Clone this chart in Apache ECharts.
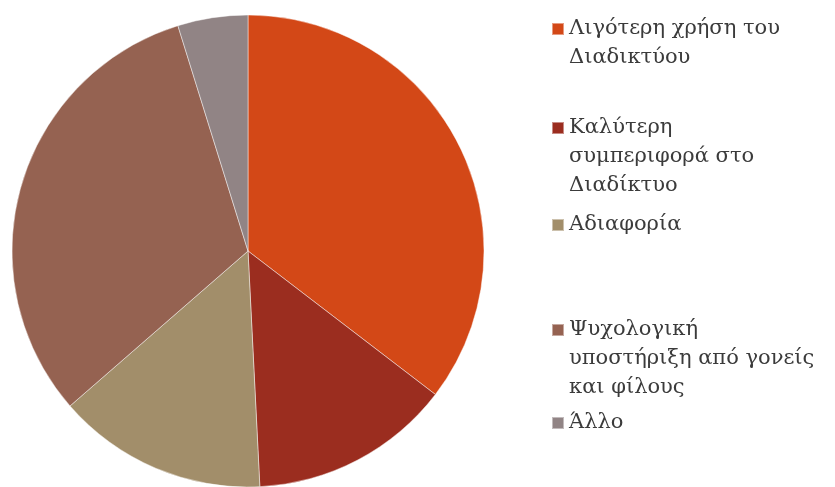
<!DOCTYPE html>
<html>
<head>
<meta charset="utf-8">
<script src="https://cdn.jsdelivr.net/npm/echarts@6/dist/echarts.min.js"></script>
<style>
  html, body { margin: 0; padding: 0; background: #fff; }
  #chart { width: 835px; height: 487px; }
</style>
</head>
<body>
<div id="chart"></div>
<script>
// Categories (legend text, with manual line breaks) and their shares
const categories = [
  'Λιγότερη χρήση του\nΔιαδικτύου',
  'Καλύτερη\nσυμπεριφορά στο\nΔιαδίκτυο',
  'Αδιαφορία',
  'Ψυχολογική\nυποστήριξη από γονείς\nκαι φίλους',
  'Άλλο'
];
const values = [35.4, 13.8, 14.4, 31.6, 4.8];
const colors = ['#D34817', '#9B2D1F', '#A28E6A', '#956251', '#918485'];

// Vertical centre of each legend marker
const legendRows = [29, 128, 225, 330, 423];
const lineH = 29;
const markerSize = 12;

const legends = categories.map((name, i) => {
  const lines = name.split('\n').length;
  // The legend centres the text block on its marker; leading blank lines
  // shift the block so that its first line sits level with the marker.
  const prefix = lines > 1 ? '\n'.repeat(lines - 1) : '';
  const blockH = (2 * lines - 1) * lineH;
  return {
    data: [name],
    orient: 'vertical',
    left: 551,
    top: legendRows[i] - blockH / 2,
    padding: 0,
    itemWidth: markerSize,
    itemHeight: markerSize,
    itemGap: 0,
    icon: 'rect',
    selectedMode: false,
    formatter: (n) => prefix + n,
    textStyle: {
      fontFamily: 'DejaVu Serif',
      fontSize: 21,
      color: '#3b3b3b',
      lineHeight: lineH
    }
  };
});

const chart = echarts.init(document.getElementById('chart'), null, { renderer: 'canvas' });
chart.setOption({
  animation: false,
  color: colors,
  legend: legends,
  series: [{
    type: 'pie',
    center: [248, 251],
    radius: [0, 236],
    startAngle: 90,
    clockwise: true,
    label: { show: false },
    labelLine: { show: false },
    emphasis: { disabled: true },
    itemStyle: { borderColor: 'rgba(255,255,255,0.45)', borderWidth: 1 },
    data: categories.map((name, i) => ({ name: name, value: values[i] }))
  }]
});
</script>
</body>
</html>
